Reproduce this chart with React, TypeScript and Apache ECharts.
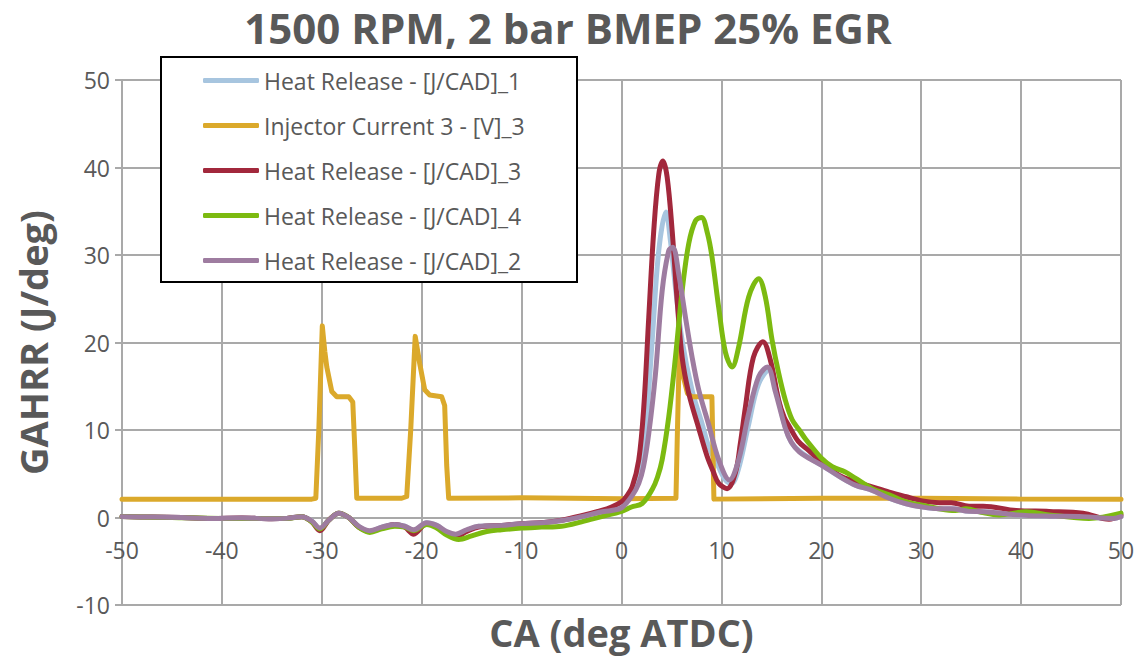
import React, { useEffect, useRef } from "react";
import * as echarts from "echarts";

const titleText = "1500 RPM, 2 bar BMEP 25% EGR";
const xName = "CA (deg ATDC)";
const yName = "GAHRR (J/deg)";

const seriesNames = [
  "Heat Release - [J/CAD]_1",
  "Injector Current 3 - [V]_3",
  "Heat Release - [J/CAD]_3",
  "Heat Release - [J/CAD]_4",
  "Heat Release - [J/CAD]_2",
];
const seriesColors = ["#a7c5df", "#dba92b", "#a2283c", "#7cba10", "#9e7ca0"];

const hr1: [number, number][] = [
  [-50, 0.1], [-47, 0.05], [-44, 0.0], [-41, -0.1], [-38, -0.05], [-35, -0.15], [-33.5, -0.1], [-32, 0.1],
  [-31, -0.4], [-30.2, -1.3], [-29.3, -0.3], [-28.3, 0.5], [-27.3, 0.0], [-26.3, -1.0], [-25.2, -1.6],
  [-24, -1.1], [-22.7, -0.8], [-21.7, -1.0], [-20.8, -1.5], [-19.5, -0.6], [-18.5, -0.9], [-17.5, -1.7],
  [-16.6, -2.0], [-15.5, -1.5], [-14.3, -1.0], [-12, -0.9], [-10, -0.7], [-8, -0.6], [-6, -0.35],
  [-4, 0.1], [-2.2, 0.6], [-1, 0.9], [0, 1.25], [1.07, 3.0], [1.73, 4.7], [2.4, 10], [3.07, 20.2],
  [3.73, 30.5], [4.45, 34.9], [4.9, 31.6], [5.4, 26.3], [6.07, 20.2], [7.07, 14.5], [8.07, 10.7],
  [8.73, 8.1], [9.7, 5.8], [10.4, 4.3], [11.0, 3.9], [11.7, 5.5], [12.7, 10.5], [13.7, 15.2],
  [14.8, 16.9], [15.5, 14.5], [16.4, 10.3], [17.0, 8.6], [17.8, 7.6], [18.7, 6.9], [20, 6.0],
  [21.8, 4.7], [23.4, 3.7], [25.1, 3.1], [26.8, 2.2], [28.4, 1.6], [30.1, 1.2], [31.8, 1.0],
  [33, 1.0], [34.8, 0.7], [36.2, 0.67], [39.5, 0.3], [42.8, 0.15], [46.2, 0.1], [49.2, -0.1], [50, 0.1],
];

const injector: [number, number][] = [
  [-50, 2.1], [-40, 2.1], [-31, 2.1], [-30.6, 2.2], [-30.3, 10], [-29.95, 21.9], [-29.7, 19],
  [-29.5, 17.2], [-29.0, 14.4], [-28.5, 13.8], [-27.3, 13.8], [-26.9, 13.2], [-26.7, 8], [-26.5, 2.2],
  [-22, 2.2], [-21.5, 2.4], [-21.1, 10], [-20.65, 20.7], [-20.4, 19], [-20.2, 17.6], [-19.7, 14.6],
  [-19.2, 14.0], [-18.0, 13.8], [-17.7, 12.8], [-17.5, 6], [-17.3, 2.2], [-10, 2.25], [0, 2.15],
  [5.45, 2.2], [5.6, 10], [5.8, 19.5], [6.1, 16.5], [6.6, 14.2], [7.0, 13.8], [9.05, 13.8],
  [9.15, 8], [9.25, 2.1], [20, 2.2], [30, 2.2], [40, 2.1], [50, 2.1],
];

const hr3: [number, number][] = [
  [-50, 0.1], [-47, 0.05], [-44, 0.0], [-41, -0.1], [-38, -0.05], [-35, -0.15], [-33.5, -0.1], [-32, 0.1],
  [-31, -0.5], [-30.2, -1.5], [-29.3, -0.3], [-28.3, 0.5], [-27.3, 0.0], [-26.3, -1.1], [-25.2, -1.6],
  [-24, -1.2], [-22.7, -0.8], [-21.7, -1.1], [-20.8, -1.9], [-19.5, -0.7], [-18.5, -1.0], [-17.5, -1.8],
  [-16.6, -2.2], [-15.5, -1.6], [-14.3, -1.1], [-12, -0.9], [-10, -0.7], [-8, -0.6], [-6, -0.3],
  [-4, 0.2], [-2, 0.8], [-1, 1.2], [0, 1.8], [0.5, 2.4], [1.07, 3.5], [1.73, 6.6], [2.23, 12.6],
  [2.73, 22.9], [3.23, 32.8], [3.73, 39.2], [4.15, 40.75], [4.57, 38.9], [5.07, 32.8], [5.57, 24.8],
  [6.07, 18.3], [6.73, 14.2], [7.73, 10.2], [8.57, 7.0], [9.2, 5.2], [9.73, 3.9], [10.57, 3.3],
  [11.4, 5.1], [11.9, 8.5], [12.4, 12.6], [13.2, 18.3], [14.15, 20.1], [14.9, 18], [15.73, 13.4],
  [16.3, 11.4], [16.8, 10.4], [17.7, 8.7], [18.7, 7.7], [20, 6.4], [21.8, 4.8], [23.4, 4.1],
  [25.1, 3.5], [26.8, 2.9], [28.4, 2.4], [30.1, 1.9], [31.8, 1.7], [33, 1.7], [34.8, 1.3],
  [36.2, 1.3], [39.5, 0.8], [42.8, 0.7], [46.2, 0.5], [48.8, -0.2], [50, 0.3],
];

const hr4: [number, number][] = [
  [-50, 0.1], [-45, 0.0], [-40, -0.1], [-35, -0.1], [-33.5, -0.1], [-32, 0.1], [-31, -0.5],
  [-30.2, -1.3], [-29.3, -0.3], [-28.3, 0.5], [-27.3, 0.0], [-26.3, -1.1], [-25.2, -1.7], [-24, -1.3],
  [-22.7, -1.0], [-21.7, -1.1], [-20.8, -1.5], [-19.5, -0.8], [-18.5, -1.2], [-17.5, -2.0], [-16.3, -2.5],
  [-15, -2.1], [-13.5, -1.6], [-12, -1.4], [-10, -1.2], [-8, -1.1], [-6, -1.0], [-4, -0.5], [-2, 0.1],
  [0, 0.7], [1, 1.2], [2.07, 1.6], [3.07, 3.2], [3.6, 4.6], [4.07, 6.6], [4.73, 11.5], [5.4, 18.3],
  [6.07, 25.9], [6.73, 31.3], [7.4, 33.9], [8.0, 34.3], [8.6, 32.5], [9.07, 29.7], [9.73, 24.0],
  [10.4, 18.9], [11.07, 17.2], [11.73, 19.5], [12.73, 25.2], [13.73, 27.3], [14.4, 25.2], [15.07, 20.3],
  [15.73, 16.5], [16.4, 13.4], [17.07, 11.2], [17.8, 10.0], [18.4, 9.0], [19.1, 8.0], [20.0, 6.8],
  [21.1, 5.8], [22.4, 5.2], [23.4, 4.5], [25.1, 3.3], [26.8, 2.6], [28.4, 1.8], [30.1, 1.4],
  [31.8, 1.0], [33.4, 0.8], [34.5, 1.0], [36, 0.6], [37.8, 0.3], [40.5, 0.65], [42.8, 0.3],
  [46.8, -0.1], [50, 0.5],
];

const hr2: [number, number][] = [
  [-50, 0.1], [-47, 0.05], [-44, 0.0], [-41, -0.1], [-38, -0.05], [-35, -0.15], [-33.5, -0.1], [-32, 0.1],
  [-31, -0.4], [-30.2, -1.2], [-29.3, -0.3], [-28.3, 0.5], [-27.3, 0.0], [-26.3, -1.0], [-25.2, -1.5],
  [-24, -1.1], [-22.7, -0.8], [-21.7, -1.0], [-20.8, -1.4], [-19.5, -0.6], [-18.5, -0.9], [-17.5, -1.6],
  [-16.6, -1.9], [-15.5, -1.4], [-14.3, -1.0], [-12, -0.9], [-10, -0.7], [-8, -0.6], [-6, -0.35],
  [-4, 0.1], [-2.2, 0.6], [-1, 0.8], [0, 1.1], [1.07, 2.5], [1.73, 3.9], [2.2, 5.8], [2.73, 9.6],
  [3.4, 16.4], [4.07, 25.9], [4.73, 30.5], [5.13, 30.9], [5.73, 27.8], [6.4, 22.9], [7.07, 18.3],
  [7.73, 14.6], [8.73, 10.6], [9.73, 6.6], [10.8, 4.3], [11.73, 6.6], [12.73, 11.9], [13.73, 16.1],
  [14.6, 17.2], [15.4, 14.4], [16.4, 10.2], [17.0, 8.6], [17.8, 7.5], [18.73, 6.8], [20, 6.0],
  [21.8, 4.7], [23.4, 3.7], [25.1, 3.1], [26.8, 2.2], [28.4, 1.6], [30.1, 1.2], [31.8, 1.0],
  [33, 1.0], [34.8, 0.7], [36.2, 0.67], [39.5, 0.3], [42.8, 0.15], [46.2, 0.1], [49.2, -0.1], [50, 0.1],
];

const seriesData = [hr1, injector, hr3, hr4, hr2];
const seriesSmooth = [0.35, false, 0.35, 0.35, 0.35];

const Y_MIN = -10;
const Y_MAX = 50;

const FONT = "'Open Sans', sans-serif";
const GREY_TEXT = "#595959";
const GRID_COLOR = "#a9a9a9";

const GRID_TOP = 80;
const GRID_BOTTOM = 52;
const CHART_H = 657;

export default function App() {
  const ref = useRef<HTMLDivElement>(null);
  useEffect(() => {
    if (!ref.current) return;
    const chart = echarts.init(ref.current, undefined, { renderer: "svg" });
    // distance from the bottom of the plot to the zero line, so that the
    // horizontal axis (and its labels) sit on y = 0 as in the reference
    const plotH = CHART_H - GRID_TOP - GRID_BOTTOM;
    const zeroOffset = (plotH * (0 - Y_MIN)) / (Y_MAX - Y_MIN);
    chart.setOption({
      animation: false,
      backgroundColor: "#ffffff",
      textStyle: { fontFamily: FONT },
      title: {
        text: titleText,
        left: "center",
        top: 1,
        textStyle: { fontFamily: FONT, fontSize: 42, fontWeight: "bold", color: GREY_TEXT },
      },
      grid: {
        left: 122,
        right: 15,
        top: GRID_TOP,
        bottom: GRID_BOTTOM,
        containLabel: false,
        outerBoundsMode: "none",
      },
      graphic: [
        {
          type: "rect",
          z: 50,
          shape: { x: 161, y: 57, width: 416, height: 225 },
          style: { fill: "#ffffff", stroke: "#000000", lineWidth: 2 },
        },
      ],
      legend: {
        orient: "vertical",
        left: 161,
        top: 57,
        z: 60,
        padding: [12, 10, 10, 42],
        itemGap: 22,
        itemWidth: 56,
        itemHeight: 5,
        itemTextGap: 4,
        icon: "roundRect",
        data: seriesNames,
        textStyle: { fontFamily: FONT, fontSize: 23, lineHeight: 22, color: GREY_TEXT },
      },
      xAxis: {
        type: "value",
        min: -50,
        max: 50,
        interval: 10,
        offset: -zeroOffset,
        name: xName,
        nameLocation: "middle",
        nameGap: 95,
        nameMoveOverlap: false,
        nameTextStyle: { fontFamily: FONT, fontSize: 38, fontWeight: "bold", color: GREY_TEXT },
        axisLine: { show: true, onZero: false, lineStyle: { color: GRID_COLOR, width: 2 } },
        axisTick: { show: false },
        axisLabel: { margin: 21, fontFamily: FONT, fontSize: 23, color: GREY_TEXT },
        splitLine: { show: true, lineStyle: { color: GRID_COLOR, width: 2 } },
      },
      yAxis: {
        type: "value",
        min: Y_MIN,
        max: Y_MAX,
        interval: 10,
        name: yName,
        nameLocation: "middle",
        nameGap: 70,
        nameMoveOverlap: false,
        nameTextStyle: { fontFamily: FONT, fontSize: 38, fontWeight: "bold", color: GREY_TEXT },
        axisLine: { show: true, onZero: false, lineStyle: { color: GRID_COLOR, width: 2 } },
        axisTick: { show: true, length: 7, lineStyle: { color: GRID_COLOR, width: 2 } },
        axisLabel: { margin: 12, fontFamily: FONT, fontSize: 23, color: GREY_TEXT },
        splitLine: { show: true, lineStyle: { color: GRID_COLOR, width: 2 } },
      },
      series: seriesNames.map((name, i) => ({
        name,
        type: "line",
        data: seriesData[i],
        smooth: seriesSmooth[i],
        showSymbol: false,
        symbol: "none",
        color: seriesColors[i],
        lineStyle: { color: seriesColors[i], width: 5, cap: "round", join: "round" },
        z: 2 + i,
      })),
    });
    return () => chart.dispose();
  }, []);
  return (
    <div
      ref={ref}
      style={{ position: "fixed", left: 0, top: 0, width: 1136, height: 657 }}
    />
  );
}
